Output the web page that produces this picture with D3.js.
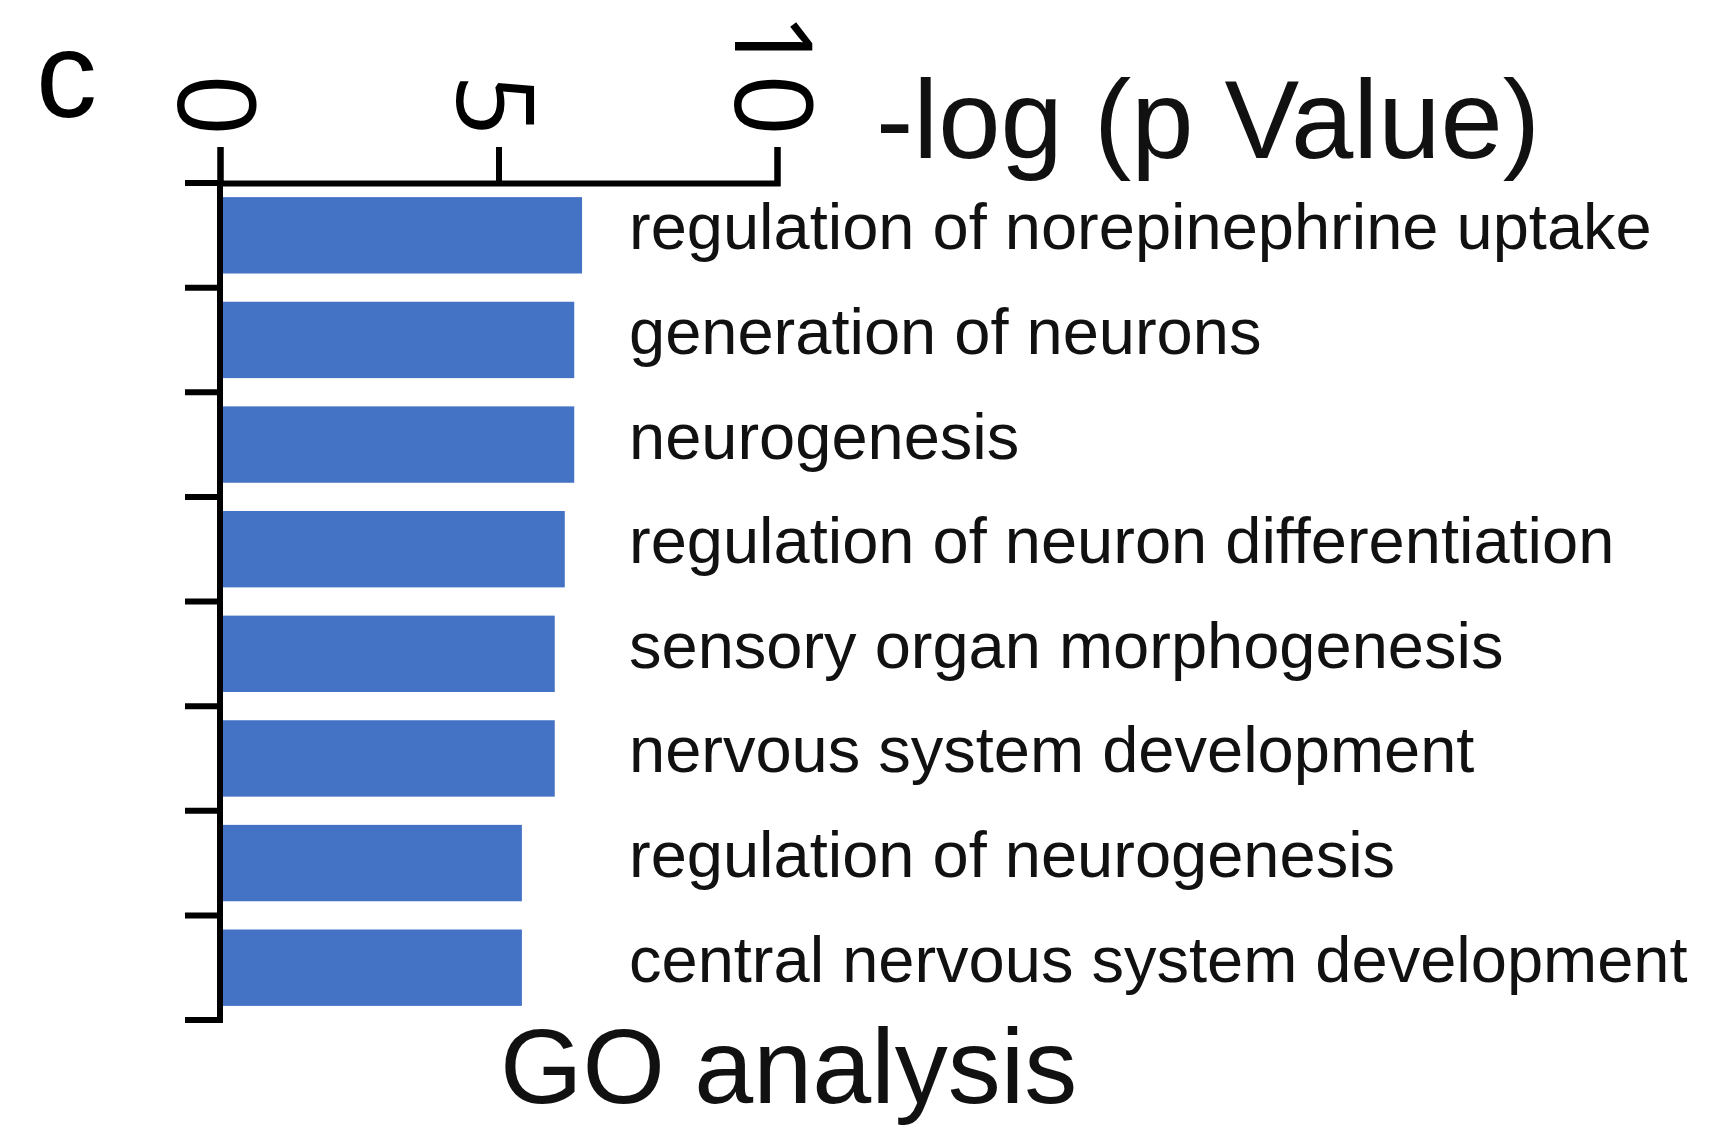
<!DOCTYPE html>
<html>
<head>
<meta charset="utf-8">
<script src="https://cdn.jsdelivr.net/npm/d3@7"></script>
<style>
  body { margin: 0; background: #fff; }
  svg { display: block; }
</style>
</head>
<body>
<svg id="vis" width="1713" height="1129"></svg>
<script>
// GO terms, top to bottom
const categories = [
    "regulation of norepinephrine uptake",
    "generation of neurons",
    "neurogenesis",
    "regulation of neuron differentiation",
    "sensory organ morphogenesis",
    "nervous system development",
    "regulation of neurogenesis",
    "central nervous system development"
];
// -log(p)
const logP = [6.5, 6.36, 6.36, 6.19, 6.01, 6.01, 5.42, 5.42];
const xTicks = [0, 5, 10];
const panelLabel = "c";
const xTitle = "-log (p Value)";
const chartTitle = "GO analysis";

function draw() {
    let svg = d3.select("#vis");
    let left = 220, right = 777, top = 183, bottom = 1020;

    let x = d3.scaleLinear()
        .domain([0, 10])
        .range([left, right]);
    let y = d3.scaleBand()
        .domain(categories)
        .range([top, bottom])
        .paddingInner(0.27)
        .paddingOuter(0.135);

    // bars
    svg.selectAll(".bar")
        .data(categories)
        .enter().append("rect")
            .attr("class", "bar")
            .attr("x", x(0))
            .attr("y", (d) => y(d))
            .attr("width", (d, i) => x(logP[i]) - x(0))
            .attr("height", y.bandwidth())
            .attr("fill", "#4472c4");

    // labels right of bars
    svg.selectAll(".term")
        .data(categories)
        .enter().append("text")
            .attr("class", "term")
            .attr("x", 629)
            .attr("y", (d) => y(d) + y.bandwidth() / 2 + 14)
            .attr("font-family", "'Liberation Sans', Arial, sans-serif")
            .attr("font-size", 65)
            .attr("fill", "#111")
            .text((d) => d);

    // x axis on top
    let gx = svg.append("g")
        .attr("transform", `translate(0, ${top})`)
        .call(d3.axisTop(x).tickValues(xTicks).tickSize(33).tickSizeOuter(33).tickFormat(""));
    gx.selectAll("path, line")
        .attr("stroke", "#000")
        .attr("stroke-width", 6)
        .attr("stroke-linecap", "square");

    // rotated tick labels
    let fs = 108;
    svg.selectAll(".xlab")
        .data(xTicks)
        .enter().append("text")
            .attr("class", "xlab")
            .attr("transform", (d) => `translate(${x(d) - 3 - 0.357 * fs}, 136) rotate(90)`)
            .attr("text-anchor", "end")
            .attr("font-family", "'Open Sans', sans-serif")
            .attr("font-size", fs)
            .attr("fill", "#000")
            .text((d) => d);

    // y axis line + ticks between bars
    let gap = (y.step() - y.bandwidth()) / 2;
    let bounds = categories.map((d) => y(d) - gap).concat([y.range()[1]]);
    svg.append("line")
        .attr("x1", x(0)).attr("x2", x(0))
        .attr("y1", top).attr("y2", bottom)
        .attr("stroke", "#000")
        .attr("stroke-width", 6)
        .attr("stroke-linecap", "square");
    svg.selectAll(".ytick")
        .data(bounds)
        .enter().append("line")
            .attr("class", "ytick")
            .attr("x1", x(0) - 35).attr("x2", x(0))
            .attr("y1", (d) => d).attr("y2", (d) => d)
            .attr("stroke", "#000")
            .attr("stroke-width", 6);

    svg.append("text")
        .attr("x", 876)
        .attr("y", 158)
        .attr("font-family", "'Liberation Sans', Arial, sans-serif")
        .attr("font-size", 112)
        .attr("fill", "#111")
        .text(xTitle);

    svg.append("text")
        .attr("x", 36)
        .attr("y", 117)
        .attr("font-family", "'Liberation Sans', Arial, sans-serif")
        .attr("font-size", 122)
        .attr("fill", "#000")
        .text(panelLabel);

    svg.append("text")
        .attr("x", 500)
        .attr("y", 1103)
        .attr("font-family", "'Liberation Sans', Arial, sans-serif")
        .attr("font-size", 106)
        .attr("fill", "#111")
        .text(chartTitle);
}

document.addEventListener('DOMContentLoaded', () => {
    draw();
});
</script>
</body>
</html>
